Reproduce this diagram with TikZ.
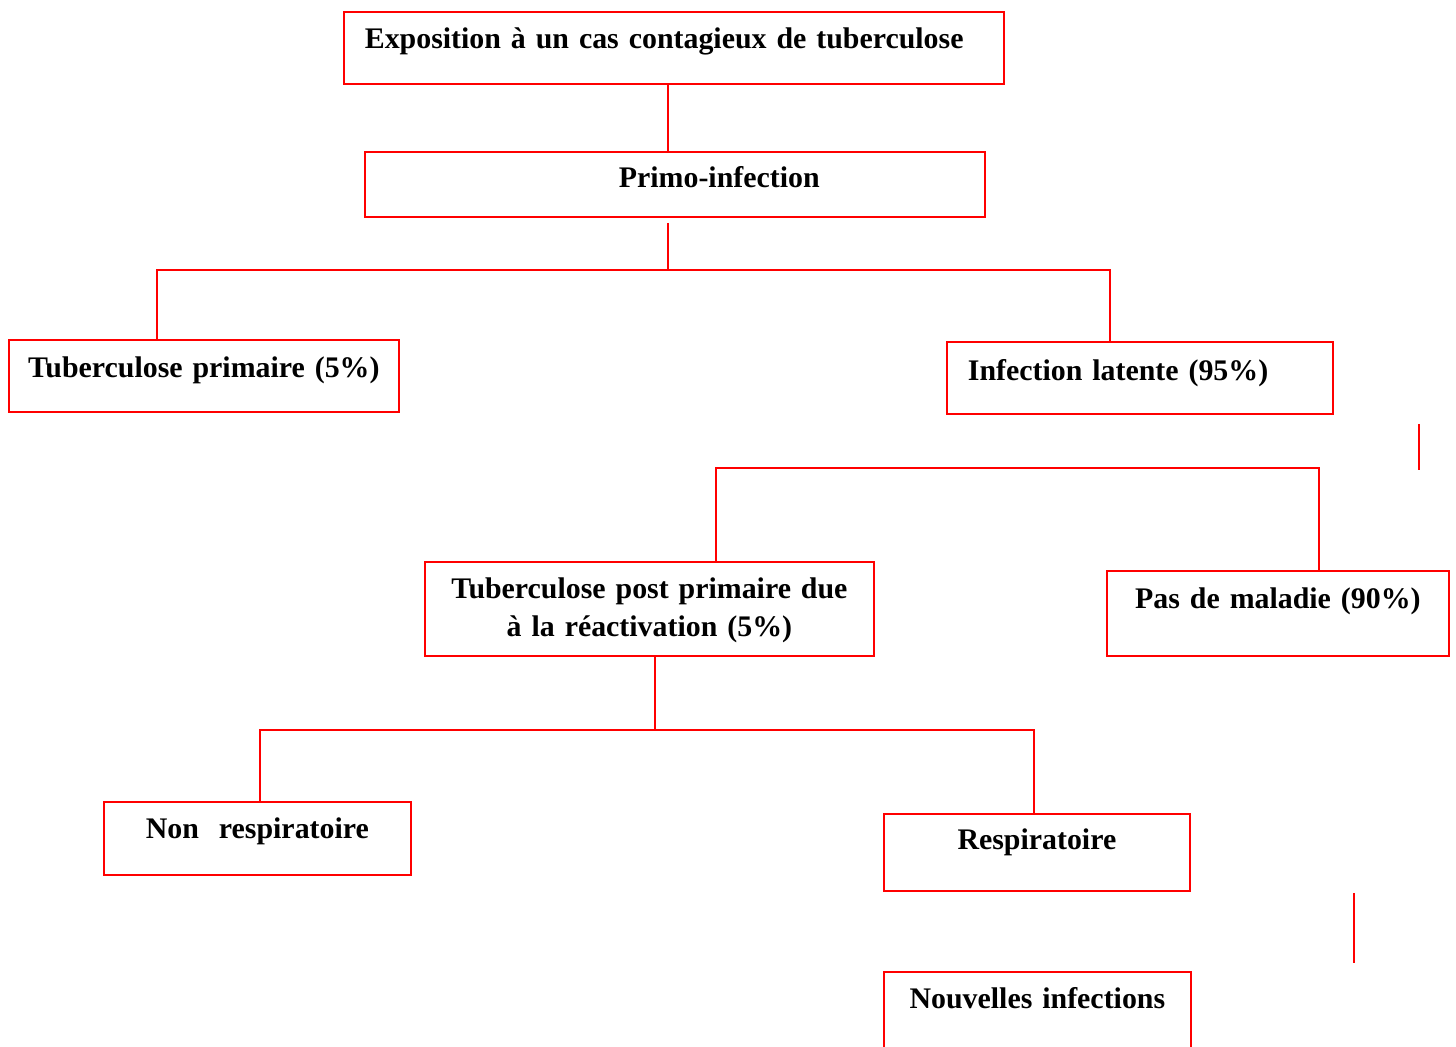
\documentclass[tikz,border=0pt]{standalone}
\usepackage{fontspec}
\setmainfont[WordSpace=0.8]{Liberation Serif}
\begin{document}
\begin{tikzpicture}[line width=0.8pt,
box/.style={draw=red,line width=1pt,rectangle,anchor=north west,inner ysep=0pt,inner xsep=0.3cm,
  font=\bfseries\fontsize{17}{21.6}\selectfont},
link/.style={draw=red,line width=0.9pt}]
\useasboundingbox (0,0) rectangle (29.12,-20.92);
\draw (6.86,-0.22) node[box,inner xsep=0.42cm,text width=12.36cm,align=left,text height=0.74cm,text depth=0.70cm] (expo) {Exposition à un cas contagieux de tuberculose};
\draw (7.28,-3.02) node[box,inner xsep=0.42cm,text width=11.56cm,align=left,text height=0.72cm,text depth=0.58cm] (primo) {\hspace*{4.66cm}Primo-infection};
\draw (0.16,-6.78) node[box,text width=7.2cm,align=center,text height=0.76cm,text depth=0.68cm] (tp) {Tuberculose primaire (5\%)};
\draw (18.92,-6.82) node[box,inner xsep=0.42cm,text width=6.88cm,align=left,text height=0.78cm,text depth=0.66cm] (il) {Infection latente (95\%)};
\draw (8.48,-11.22) node[box,text width=8.38cm,align=center,text height=0.74cm,text depth=1.14cm] (pp) {Tuberculose post primaire due\\à la réactivation (5\%)};
\draw (22.12,-11.40) node[box,text width=6.24cm,align=center,text height=0.76cm,text depth=0.94cm] (pdm) {Pas de maladie (90\%)};
\draw (2.06,-16.02) node[box,text width=5.54cm,align=center,text height=0.74cm,text depth=0.72cm] (nr) {Non\ \ respiratoire};
\draw (17.66,-16.26) node[box,text width=5.52cm,align=center,text height=0.72cm,text depth=0.82cm] (resp) {Respiratoire};
\draw (17.66,-19.42) node[box,text width=5.54cm,align=center,text height=0.74cm,text depth=1.26cm] (ni) {Nouvelles infections};
% first level
\coordinate (j1) at (13.36,-5.4);
\draw[link] (expo.south -| j1) -- (primo.north -| j1);
\draw[link] ([yshift=-0.1cm]primo.south -| j1) -- (j1);
\draw[link] ([xshift=-0.94cm]tp.north) |- (j1) -| ([xshift=-0.6cm]il.north);
% second level
\draw[link] ([xshift=1.33cm]pp.north) -- ++(0,1.86) -| ([xshift=0.82cm]pdm.north);
\draw[link] ([xshift=1.7cm,yshift=-0.18cm]il.south east) -- ++(0,-0.92);
% third level
\draw[link] ([xshift=0.11cm]pp.south) -- ++(0,-1.46) coordinate (j3);
\draw[link] ([xshift=0.05cm]nr.north) |- (j3) -| ([xshift=-0.06cm]resp.north);
\draw[link] ([xshift=3.26cm,yshift=-0.02cm]resp.south east) -- ++(0,-1.4);
\end{tikzpicture}
\end{document}
